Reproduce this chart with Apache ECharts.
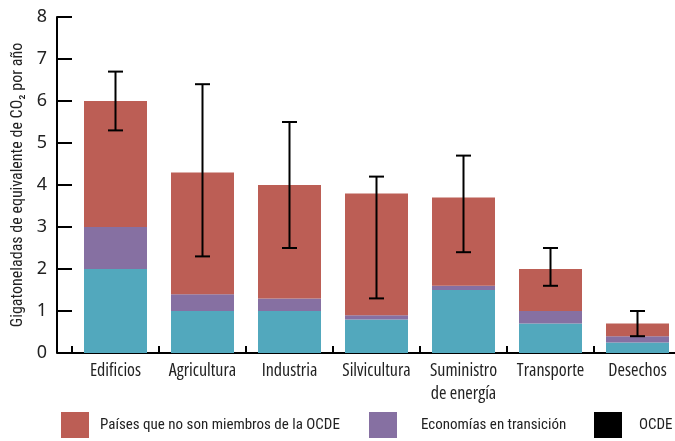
<!DOCTYPE html>
<html>
<head>
<meta charset="utf-8">
<script src="https://cdn.jsdelivr.net/npm/echarts@6/dist/echarts.min.js"></script>
<style>
  html, body { margin: 0; padding: 0; background: #fff; }
  #chart { width: 675px; height: 441px; }
</style>
</head>
<body>
<div id="chart"></div>
<script>
// Emisiones por sector (Gt CO2-eq/año)
const categories = ['Edificios', 'Agricultura', 'Industria', 'Silvicultura', 'Suministro\nde energía', 'Transporte', 'Desechos'];
const ocde = [2, 1, 1, 0.8, 1.5, 0.7, 0.25];
const transicion = [1, 0.4, 0.3, 0.1, 0.1, 0.3, 0.15];
const noOcde = [3, 2.9, 2.7, 2.9, 2.1, 1.0, 0.3];
const rangoBajo = [5.3, 2.3, 2.5, 1.3, 2.4, 1.6, 0.4];
const rangoAlto = [6.7, 6.4, 5.5, 4.2, 4.7, 2.5, 1.0];
const yTicks = [0, 1, 2, 3, 4, 5, 6, 7, 8];

const NAME_NO_OCDE = 'Países que no son miembros de la OCDE';
const NAME_TRANS = 'Economías en transición';
const NAME_OCDE = 'OCDE';

const condensed = '"Roboto Condensed", "Liberation Sans", sans-serif';
const ink = '#222';

const chart = echarts.init(document.getElementById('chart'));

const errorData = categories.map((c, i) => [i, rangoBajo[i], rangoAlto[i]]);

function legendBlock(name, left, gap, color) {
  return {
    left: left,
    top: 412,
    padding: 0,
    orient: 'horizontal',
    icon: 'rect',
    itemWidth: 28,
    itemHeight: 26,
    selectedMode: false,
    data: [color ? { name: name, itemStyle: { color: color } } : name],
    textStyle: {
      fontFamily: condensed,
      fontSize: 15,
      color: ink,
      padding: [10, 0, 0, gap]
    }
  };
}

chart.setOption({
  animation: false,
  grid: { left: 72, top: 17, width: 609, height: 336, containLabel: false, outerBoundsMode: 'none' },
  legend: [
    legendBlock(NAME_NO_OCDE, 61, 6),
    legendBlock(NAME_TRANS, 369, 19),
    legendBlock(NAME_OCDE, 594, 12, '#000000')
  ],
  xAxis: {
    type: 'category',
    data: categories,
    boundaryGap: true,
    axisLine: { show: true, lineStyle: { color: '#000', width: 2 } },
    axisTick: { show: true, inside: true, length: 7, interval: 0, lineStyle: { color: '#000', width: 2 } },
    axisLabel: {
      interval: 0, margin: 6,
      fontFamily: '"Open Sans", sans-serif', fontWeight: 'condensed',
      fontSize: 18, lineHeight: 23, color: ink
    }
  },
  yAxis: {
    type: 'value',
    min: yTicks[0],
    max: yTicks[yTicks.length - 1],
    interval: 1,
    offset: 15,
    name: 'Gigatoneladas de equivalente de CO₂ por año',
    nameLocation: 'middle',
    nameGap: 31,
    nameTextStyle: { fontFamily: condensed, fontSize: 16, color: ink },
    axisLine: { show: true, lineStyle: { color: '#000', width: 2 } },
    axisTick: { show: true, inside: true, length: 15, lineStyle: { color: '#000', width: 2 } },
    splitLine: { show: false },
    axisLabel: { margin: 10, fontFamily: '"Noto Sans", sans-serif', fontSize: 18, color: ink }
  },
  series: [
    {
      name: NAME_OCDE,
      type: 'bar',
      stack: 'total',
      barWidth: 63,
      data: ocde,
      itemStyle: { color: '#52A8BD' }
    },
    {
      name: NAME_TRANS,
      type: 'bar',
      stack: 'total',
      barWidth: 63,
      data: transicion,
      itemStyle: { color: '#8670A2' }
    },
    {
      name: NAME_NO_OCDE,
      type: 'bar',
      stack: 'total',
      barWidth: 63,
      data: noOcde,
      itemStyle: { color: '#BC5E55' }
    },
    {
      name: 'rango',
      type: 'custom',
      z: 10,
      data: errorData,
      encode: { x: 0, y: [1, 2] },
      renderItem: function (params, api) {
        const x = api.value(0);
        const lo = api.coord([x, api.value(1)]);
        const hi = api.coord([x, api.value(2)]);
        const half = 7.5;
        const style = { stroke: '#000', lineWidth: 2 };
        return {
          type: 'group',
          children: [
            { type: 'line', shape: { x1: lo[0], y1: lo[1], x2: hi[0], y2: hi[1] }, style: style },
            { type: 'line', shape: { x1: hi[0] - half, y1: hi[1], x2: hi[0] + half, y2: hi[1] }, style: style },
            { type: 'line', shape: { x1: lo[0] - half, y1: lo[1], x2: lo[0] + half, y2: lo[1] }, style: style }
          ]
        };
      }
    }
  ]
});
</script>
</body>
</html>
